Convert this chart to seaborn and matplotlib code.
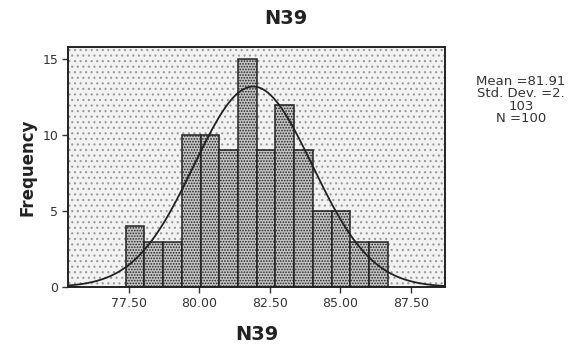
import numpy as np
import pandas as pd
import matplotlib
matplotlib.use('Agg')
import matplotlib.pyplot as plt
from matplotlib.patches import Rectangle
import seaborn as sns

# histogram counts (14 bins)
bin_start = 77.39
bin_width = 0.664
counts = [4, 3, 3, 10, 10, 9, 15, 9, 12, 9, 5, 5, 3, 3]
x_ticks = [77.5, 80.0, 82.5, 85.0, 87.5]
x_tick_labels = ['77.50', '80.00', '82.50', '85.00', '87.50']
y_ticks = [0, 5, 10, 15]

mean = 81.91
std = 2.103
n = 100
curve_scale = 69.6  # height factor of the fitted normal curve

edges = bin_start + bin_width * np.arange(len(counts) + 1)
centers = (edges[:-1] + edges[1:]) / 2
df = pd.DataFrame({'value': centers, 'count': counts})

sns.set_style('white')
plt.rcParams['font.family'] = ['DejaVu Sans']
plt.rcParams['hatch.linewidth'] = 0.8

fig = plt.figure(figsize=(5.71, 3.54), dpi=100)
ax = fig.add_axes([0.119, 0.189, 0.66, 0.678])

# dotted background
ax.add_patch(Rectangle((0, 0), 1, 1, transform=ax.transAxes, facecolor='#f2f2f2',
                       hatch='...', edgecolor='#9a9a9a', linewidth=0, zorder=0))

sns.histplot(x=df['value'], weights=df['count'], bins=list(edges), ax=ax,
             color='#c4c4c4', edgecolor='#222222', linewidth=1.1, alpha=1)
for p in ax.patches[1:]:
    p.set_hatch('......')

# fitted normal curve
xs = np.linspace(75.34, 88.71, 300)
ys = curve_scale / (std * np.sqrt(2 * np.pi)) * np.exp(-0.5 * ((xs - mean) / std) ** 2)
ax.plot(xs, ys, color='#222222', linewidth=1.3)

ax.set_xlim(75.34, 88.71)
ax.set_ylim(0, 15.8)
ax.set_xticks(x_ticks)
ax.set_xticklabels(x_tick_labels)
ax.set_yticks(y_ticks)
ax.tick_params(axis='both', direction='out', length=4, width=1, labelsize=9,
               colors='#333333', bottom=True, left=True, pad=3)
for s in ax.spines.values():
    s.set_color('#222222')
    s.set_linewidth(1.4)
    s.set_linestyle((0, (2, 1)))
ax.spines['bottom'].set_linestyle('-')
ax.spines['left'].set_linestyle('-')

ax.set_xlabel('')
ax.set_ylabel('')
fig.text(0.501, 0.949, 'N39', ha='center', va='center', fontsize=14,
         fontweight='bold', color='#222222')
fig.text(0.45, 0.054, 'N39', ha='center', va='center', fontsize=14,
         fontweight='bold', color='#222222')
fig.text(0.049, 0.528, 'Frequency', ha='center', va='center', rotation=90,
         fontsize=12, fontweight='bold', color='#222222')

fig.text(0.912, 0.717, 'Mean =81.91\nStd. Dev. =2.\n103\nN =100',
         ha='center', va='center', fontsize=9.5, color='#333333', linespacing=0.95)

fig.savefig('out.png', dpi=100)
